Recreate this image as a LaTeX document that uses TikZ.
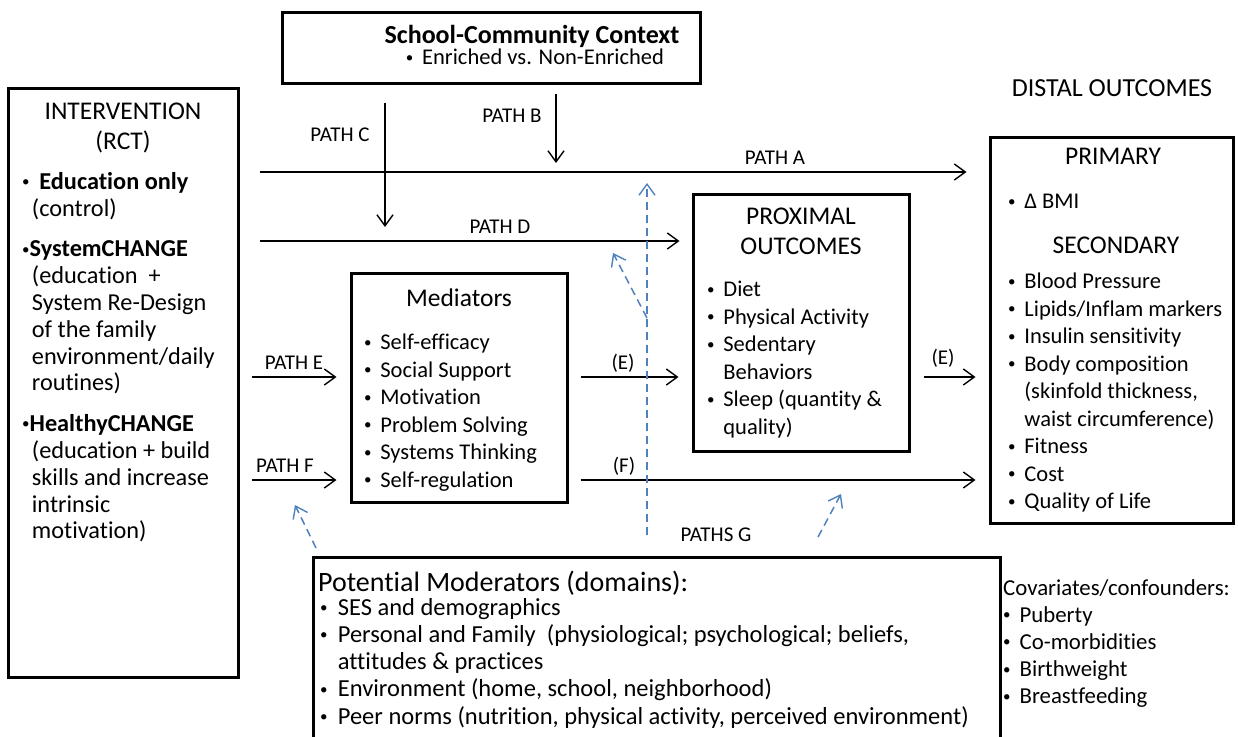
\documentclass[tikz,border=0pt]{standalone}
\usepackage{fontspec}
\setmainfont{Carlito}[Ligatures={NoCommon}]
\usetikzlibrary{arrows.meta}
\usetikzlibrary{positioning}
\definecolor{dashblue}{RGB}{79,129,189}
\newcommand{\bodyfont}{\fontsize{22.5}{27.5}\selectfont}
\newcommand{\headfont}{\fontsize{25.5}{30}\selectfont}
\newcommand{\pathfont}{\fontsize{21}{24}\selectfont}
\newcommand{\bdot}{\raisebox{0.11em}{\fontsize{15}{15}\selectfont\textbullet}}
\newcommand{\bul}{\makebox[0.72em][l]{\bdot}}
\newcommand{\bulgap}{\hspace*{0.72em}}

\begin{document}
\begin{tikzpicture}[x=1pt, y=-1pt,
    box/.style={draw, line width=3pt, inner sep=0pt},
    txt/.style={inner sep=0pt, font=\bodyfont, align=left},
    head/.style={inner sep=0pt, font=\headfont, align=center},
    lbl/.style={inner sep=0pt, font=\pathfont},
    flow/.style={line width=1.4pt, -{Straight Barb[length=11pt, width=16pt, line width=1.4pt]}},
    modarrow/.style={flow, draw=dashblue, line width=1.5pt, dash pattern=on 8pt off 5pt}]
    \useasboundingbox (0,0) rectangle (1238,736);

    % boxes
    \node[box, minimum width=418pt, minimum height=71pt] (school) at (491,47.5) {};
    \node[box, minimum width=230pt, minimum height=589pt] (intv) at (123,382.5) {};
    \node[box, minimum width=216pt, minimum height=229pt] (medi) at (459,387.5) {};
    \node[box, minimum width=216pt, minimum height=257pt] (prox) at (801,322.5) {};
    \node[box, minimum width=243pt, minimum height=386pt] (distal) at (1111.5,330) {};
    \node[box, minimum width=687pt, minimum height=188pt] (moder) at (656.5,651) {};

    % school context
    \node[inner sep=0pt, font=\fontsize{26}{30}\selectfont\bfseries, anchor=north] (schoolhead) at (532,25) {School-Community Context};
    \node[txt, anchor=north] (schoollist) at (535,49) {\bul Enriched vs. Non-Enriched};

    % intervention
    \node[head, anchor=north] (intvhead) at (123,103) {INTERVENTION\\(RCT)};
    \node[txt, font=\fontsize{24.3}{26.8}\selectfont, anchor=north west] (intvlist) at (22,172) {%
        \bdot\hspace{0.4em}\textbf{Education only}\\
        \hspace*{0.4em}(control)\\[14pt]
        \bdot\textbf{SystemCHANGE}\\
        \hspace*{0.4em}(education\ \ +\\
        \hspace*{0.4em}System Re-Design\\
        \hspace*{0.4em}of the family\\
        \hspace*{0.4em}environment/daily\\
        \hspace*{0.4em}routines)\\[14pt]
        \bdot\textbf{HealthyCHANGE}\\
        \hspace*{0.4em}(education + build\\
        \hspace*{0.4em}skills and increase\\
        \hspace*{0.4em}intrinsic\\
        \hspace*{0.4em}motivation)};

    % mediators
    \node[head, anchor=north] (medihead) at (459,289) {Mediators};
    \node[txt, anchor=north west] (medilist) at (364,334) {%
        \bul Self-efficacy\\
        \bul Social Support\\
        \bul Motivation\\
        \bul Problem Solving\\
        \bul Systems Thinking\\
        \bul Self-regulation};

    % proximal outcomes
    \node[head, anchor=north] (proxhead) at (801,208) {PROXIMAL\\OUTCOMES};
    \node[txt, anchor=north west] (proxlist) at (707,281) {%
        \bul Diet\\
        \bul Physical Activity\\
        \bul Sedentary\\
        \bulgap Behaviors\\
        \bul Sleep (quantity \&\\
        \bulgap quality)};

    % distal outcomes
    \node[head, font=\fontsize{26}{30}\selectfont] (distalhead) at (1112,88) {DISTAL OUTCOMES};
    \node[head, anchor=north] (primhead) at (1113,148) {PRIMARY};
    \node[txt, anchor=north west] (primlist) at (1008,194) {\bul Δ BMI};
    \node[head, anchor=north] (sechead) at (1116,237) {SECONDARY};
    \node[txt, anchor=north west] (seclist) at (1008,273) {%
        \bul Blood Pressure\\
        \bul Lipids/Inflam markers\\
        \bul Insulin sensitivity\\
        \bul Body composition\\
        \bulgap (skinfold thickness,\\
        \bulgap waist circumference)\\
        \bul Fitness\\
        \bul Cost\\
        \bul Quality of Life};

    % moderators and covariates
    \node[head, font=\fontsize{28}{30}\selectfont, anchor=north west] (moderhead) at (318,571) {Potential Moderators (domains):};
    \node[txt, font=\fontsize{24.5}{27.2}\selectfont, anchor=north west] (moderlist) at (320,598) {%
        \bul SES and demographics\\
        \bul Personal and Family\ \ (physiological; psychological; beliefs,\\
        \bulgap attitudes \& practices\\
        \bul Environment (home, school, neighborhood)\\
        \bul Peer norms (nutrition, physical activity, perceived environment)};
    \node[txt, font=\fontsize{22.8}{27.2}\selectfont, anchor=north west] (covar) at (1003,579) {%
        Covariates/confounders:\\
        \bul Puberty\\
        \bul Co-morbidities\\
        \bul Birthweight\\
        \bul Breastfeeding};

    % path labels
    \node[lbl] (la) at (775,158) {PATH A};
    \node[lbl] (lb) at (512,116) {PATH B};
    \node[lbl] (lc) at (340,135) {PATH C};
    \node[lbl] (ld) at (500,227) {PATH D};
    \node[lbl] (le) at (294,363) {PATH E};
    \node[lbl] (lf) at (285,466) {PATH F};
    \node[lbl] (lem) at (623,363) {(E)};
    \node[lbl] (ler) at (943,358) {(E)};
    \node[lbl] (lfm) at (624,466) {(F)};
    \node[lbl] (lg) at (716,535) {PATHS G};

    % free ends
    \coordinate (pa) at (260,172);
    \coordinate (btip) at (556,163);
    \coordinate (ctop) at (385,103);
    \coordinate (ctip) at (385,227);
    \coordinate (pd) at (260,241);
    \coordinate (pe) at (252,377);
    \coordinate (pf) at (252,480);
    \coordinate (gbase) at (647,535);
    \coordinate (gtip) at (647,183);
    \coordinate (gmid) at (647,318);
    \coordinate (gdtip) at (613,253);
    \coordinate (mlbase) at (316,548);
    \coordinate (mltip) at (295,505);
    \coordinate (mrbase) at (818,537);
    \coordinate (mrtip) at (841,494);

    % main paths
    \draw[flow, shorten >=22pt] (pa) -- (distal.west |- pa);
    \draw[flow, shorten <=9pt] (school.south -| btip) -- (btip);
    \draw[flow] (ctop) -- (ctip);
    \draw[flow, shorten >=12pt] (pd) -- (prox.west |- pd);
    \draw[flow, shorten >=13pt] (pe) -- (medi.west |- pe);
    \draw[flow, shorten <=12pt, shorten >=13pt] (medi.east |- pe) -- (prox.west |- pe);
    \draw[flow, shorten <=13pt, shorten >=13pt] (prox.east |- pe) -- (distal.west |- pe);
    \draw[flow, shorten >=13pt] (pf) -- (medi.west |- pf);
    \draw[flow, shorten <=12pt, shorten >=13pt] (medi.east |- pf) -- (distal.west |- pf);

    % moderator paths
    \draw[modarrow] (gbase) -- (gtip);
    \draw[modarrow] (gmid) -- (gdtip);
    \draw[modarrow] (mlbase) -- (mltip);
    \draw[modarrow] (mrbase) -- (mrtip);
\end{tikzpicture}
\end{document}
